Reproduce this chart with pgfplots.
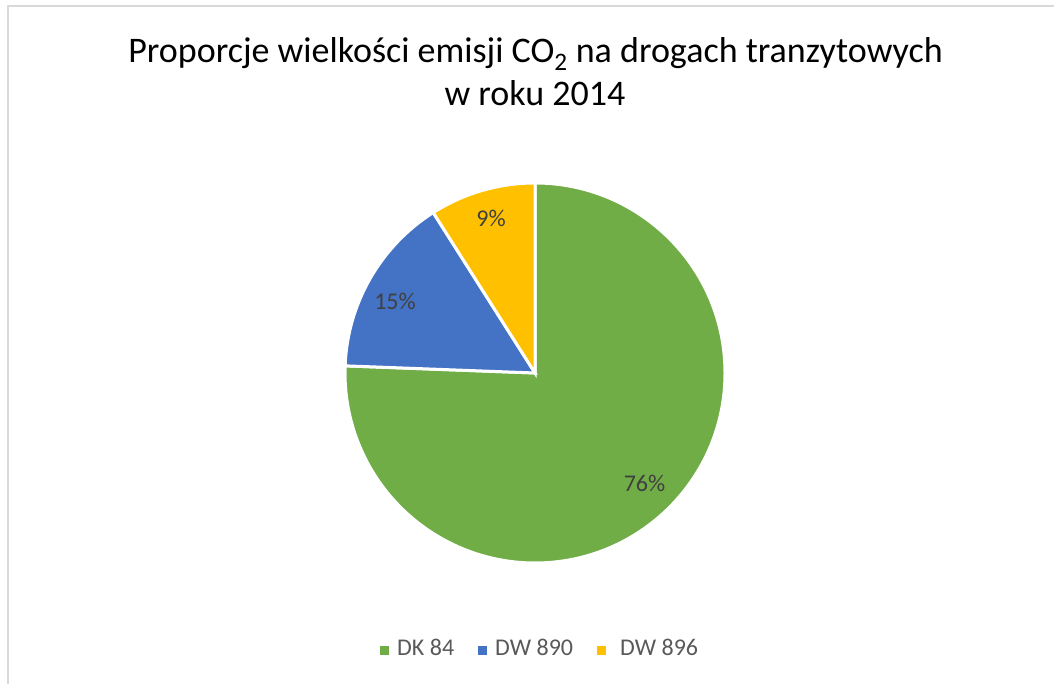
\documentclass[border=0pt]{standalone}
\usepackage{pgfplots}
\usepackage{pgfplotstable}
\pgfplotsset{compat=1.18}
\usepackage{fontspec}
\setmainfont{Carlito}
\definecolor{cgreen}{HTML}{70AD47}
\definecolor{cblue}{HTML}{4472C4}
\definecolor{cyellow}{HTML}{FFC000}
\definecolor{labgray}{HTML}{404040}
\definecolor{leggray}{HTML}{595959}
\definecolor{framegray}{HTML}{D9D9D9}

% slice values (percent), colour, label position (base point)
\pgfplotstableread{
value col lx ly
75.6 cgreen 644.5 192.3
15.4 cblue 395 374
9.0 cyellow 491 457.3
}\piedata

\begin{document}
\begin{tikzpicture}
\useasboundingbox (0,0) rectangle (1054pt,684pt);
\begin{axis}[
  at={(0,0)}, anchor=south west,
  scale only axis, width=1054pt, height=684pt,
  xmin=0, xmax=1054, ymin=0, ymax=684,
  hide axis, clip=false,
]
\addplot[draw=none, forget plot] coordinates {(0,0) (1054,684)};
\pgfplotsextra{
  % frame
  \draw[framegray, line width=1.5pt] (axis cs:8,0) -- (axis cs:8,678) -- (axis cs:1054,678);
  % title
  \node[anchor=base, black] at (axis cs:535.5,621.3) {\fontsize{36}{44}\selectfont Proporcje wielkości emisji CO\textsubscript{2} na drogach tranzytowych};
  \node[anchor=base, black] at (axis cs:535,578) {\fontsize{36}{44}\selectfont w roku 2014};
  % pie
  \xdef\startang{90}
  \pgfplotstablegetrowsof{\piedata}\pgfmathtruncatemacro\lastrow{\pgfplotsretval-1}
  \foreach \i in {0,...,\lastrow}{
    \pgfplotstablegetelem{\i}{value}\of\piedata \let\val\pgfplotsretval
    \pgfplotstablegetelem{\i}{col}\of\piedata \let\col\pgfplotsretval
    \pgfmathsetmacro\endang{\startang-3.6*\val}
    \fill[\col, draw=white, line width=3pt, line join=miter]
      (axis cs:535,311) -- ++(\startang:190pt) arc[start angle=\startang, end angle=\endang, radius=190pt] -- cycle;
    \xdef\startang{\endang}
  }
  \foreach \i in {0,...,\lastrow}{
    \pgfplotstablegetelem{\i}{value}\of\piedata \let\val\pgfplotsretval
    \pgfplotstablegetelem{\i}{lx}\of\piedata \let\lx\pgfplotsretval
    \pgfplotstablegetelem{\i}{ly}\of\piedata \let\ly\pgfplotsretval
    \node[anchor=base, labgray, inner sep=0pt] at (axis cs:\lx,\ly)
      {\fontsize{24}{28}\selectfont\pgfmathprintnumber[fixed, precision=0, assume math mode=true]{\val}\%};
  }
  % legend
  \fill[cgreen] (axis cs:380,29) rectangle (axis cs:389,38);
  \node[anchor=base west, inner sep=0pt, leggray] at (axis cs:397,28) {\fontsize{24}{28}\selectfont DK 84};
  \fill[cblue] (axis cs:478,29) rectangle (axis cs:487,38);
  \node[anchor=base west, inner sep=0pt, leggray] at (axis cs:495,28) {\fontsize{24}{28}\selectfont DW 890};
  \fill[cyellow] (axis cs:597,29) rectangle (axis cs:606,38);
  \node[anchor=base west, inner sep=0pt, leggray] at (axis cs:620,28) {\fontsize{24}{28}\selectfont DW 896};
}
\end{axis}
\end{tikzpicture}
\end{document}
